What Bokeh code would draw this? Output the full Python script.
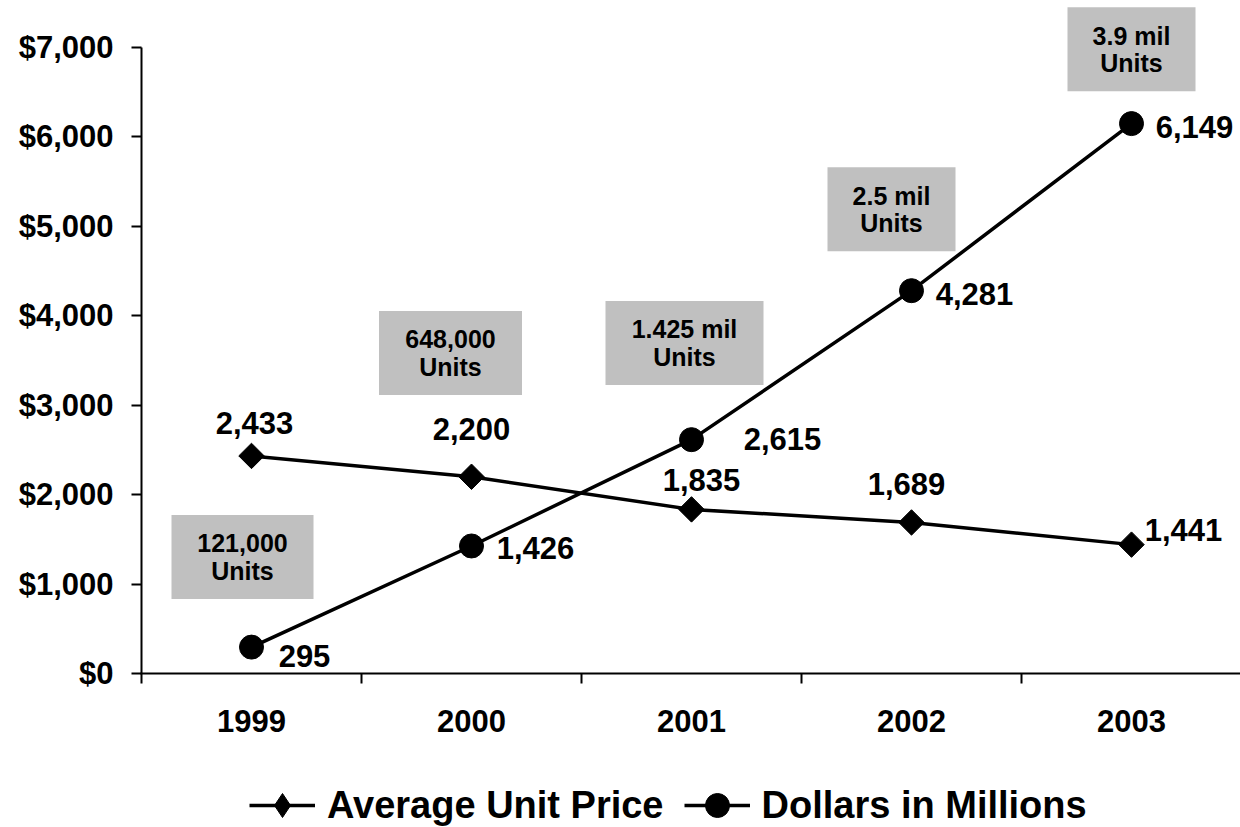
import math
from bokeh.plotting import figure
from bokeh.models import (ColumnDataSource, Range1d, FixedTicker, NumeralTickFormatter,
                          Legend, LegendItem)
from bokeh.core.properties import value
from bokeh.embed import file_html
from bokeh.resources import INLINE

# ---- data ----
years = ["1999", "2000", "2001", "2002", "2003"]
avg_unit_price = [2433, 2200, 1835, 1689, 1441]
dollars_in_millions = [295, 1426, 2615, 4281, 6149]
units_sold = ["121,000", "648,000", "1.425 mil", "2.5 mil", "3.9 mil"]
units_word = "Units"
y_ticks = [0, 1000, 2000, 3000, 4000, 5000, 6000, 7000]

# ---- layout (placement only) ----
PX_PER_CAT = 220            # pixels per category
PX_PER_UNIT = 626 / 7000    # pixels per dollar on the value axis
AXIS_Y_PX = 673             # vertical pixel position of the value 0
price_dx = [3, 0, 10, -5, 52]
price_dy = [-33, -48, -29, -38, -15]
dollar_dx = [53, 64, 91, 63, 63]
dollar_dy = [9, 2, -1, 3, 3]
note_dx = [-9, -21, -7, -20, 0]
note_y = [1303, 3584, 3696, 5192, 6981]
note_w = [142, 143, 158, 128, 128]
note_h = 84
W, H, LEFT = 1240, 827, 139

FONT = "Liberation Sans"
xs = list(range(len(years)))
x_start = -0.5 - 2 / PX_PER_CAT
x_end = x_start + (W - LEFT) / PX_PER_CAT
y_start = -(H - AXIS_Y_PX) / PX_PER_UNIT
y_end = AXIS_Y_PX / PX_PER_UNIT

p = figure(width=W, height=H, output_backend="svg", toolbar_location=None,
           x_range=Range1d(x_start, x_end), y_range=Range1d(y_start, y_end),
           min_border_left=LEFT, min_border_top=0, min_border_right=0, min_border_bottom=0)
p.outline_line_color = None
p.grid.visible = False
p.xaxis.visible = False
p.background_fill_color = "white"
p.border_fill_color = "white"

# y axis (ticks + labels), line drawn separately from lowest to highest tick
ya = p.yaxis[0]
ya.ticker = FixedTicker(ticks=y_ticks)
ya.formatter = NumeralTickFormatter(format="$0,0")
ya.major_tick_out = 8
ya.major_tick_in = 2
ya.major_tick_line_width = 2
ya.major_tick_line_color = "black"
ya.minor_tick_line_color = None
ya.axis_line_color = None
ya.major_label_standoff = 18
ya.major_label_text_font = FONT
ya.major_label_text_font_style = "bold"
ya.major_label_text_font_size = "31px"
ya.major_label_text_color = "black"
p.segment(x0=[-0.5], y0=[y_ticks[0]], x1=[-0.5], y1=[y_ticks[-1]],
          line_color="black", line_width=2)

# category axis at value 0: line, boundary ticks, year labels
bounds = [i - 0.5 for i in range(len(years) + 1)]
p.segment(x0=[-0.5 - 1 / PX_PER_CAT], y0=[0], x1=[x_end], y1=[0],
          line_color="black", line_width=2)
p.segment(x0=bounds, y0=[0] * len(bounds), x1=bounds, y1=[-10 / PX_PER_UNIT] * len(bounds),
          line_color="black", line_width=2)
p.text(x=xs, y=[0] * len(xs), text=years, y_offset=47, text_align="center",
       text_baseline="middle", text_font=value(FONT), text_font_style="bold",
       text_font_size="31px", text_color="black")

src = ColumnDataSource(dict(
    x=xs, price=avg_unit_price, dollars=dollars_in_millions,
    price_txt=[f"{v:,}" for v in avg_unit_price],
    dollars_txt=[f"{v:,}" for v in dollars_in_millions],
    pdx=price_dx, pdy=price_dy, ddx=dollar_dx, ddy=dollar_dy,
))

# unit-count boxes
nsrc = ColumnDataSource(dict(
    x=[i + d / PX_PER_CAT for i, d in zip(xs, note_dx)], y=note_y, w=note_w,
    l1=units_sold, l2=[units_word] * len(units_sold),
))
p.rect("x", "y", width="w", height=note_h, width_units="screen", height_units="screen",
       source=nsrc, fill_color="#c0c0c0", line_color=None)
p.text("x", "y", text="l1", source=nsrc, y_offset=-13.5, text_align="center",
       text_baseline="middle", text_font=value(FONT), text_font_style="bold",
       text_font_size="25px", text_color="black")
p.text("x", "y", text="l2", source=nsrc, y_offset=14, text_align="center",
       text_baseline="middle", text_font=value(FONT), text_font_style="bold",
       text_font_size="25px", text_color="black")

l1 = p.line("x", "price", source=src, line_color="black", line_width=3.5)
# diamond used for the legend swatch (sits inside the larger rotated square below)
m1_leg = p.scatter("x", "price", source=src, marker="diamond", size=16,
                   fill_color="black", line_color="black")
p.scatter("x", "price", source=src, marker="square", angle=math.pi / 4, size=18,
          fill_color="black", line_color="black")
l2 = p.line("x", "dollars", source=src, line_color="black", line_width=3.5)
m2 = p.scatter("x", "dollars", source=src, marker="circle", size=24,
               fill_color="black", line_color="black")

p.text("x", "price", text="price_txt", source=src, x_offset="pdx", y_offset="pdy",
       text_align="center", text_baseline="middle", text_font=value(FONT),
       text_font_style="bold", text_font_size="31px", text_color="black")
p.text("x", "dollars", text="dollars_txt", source=src, x_offset="ddx", y_offset="ddy",
       text_align="center", text_baseline="middle", text_font=value(FONT),
       text_font_style="bold", text_font_size="31px", text_color="black")

legend = Legend(items=[LegendItem(label="Average Unit Price", renderers=[l1, m1_leg]),
                       LegendItem(label="Dollars in Millions", renderers=[l2, m2])],
                orientation="horizontal", location=(110, -8),
                glyph_width=66, glyph_height=60, label_standoff=12, spacing=20,
                padding=0, margin=0, border_line_color=None, background_fill_alpha=0,
                label_text_font=FONT, label_text_font_style="bold",
                label_text_font_size="38px", label_text_color="black")
p.add_layout(legend, "center")

open("out.html", "w").write(file_html(p, INLINE))
